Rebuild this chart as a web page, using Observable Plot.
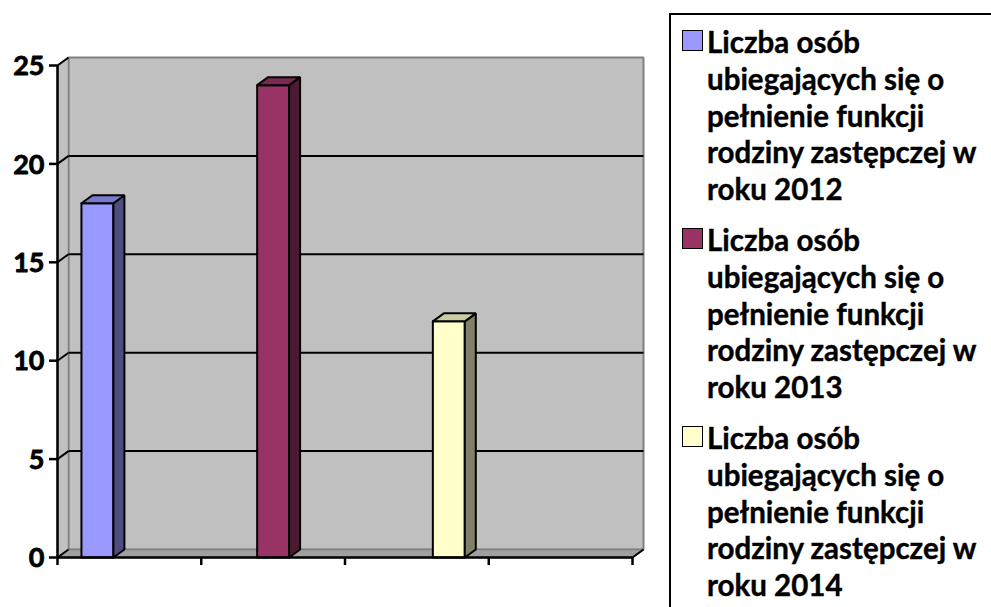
<!DOCTYPE html>
<html><head><meta charset="utf-8">
<script src="https://cdn.jsdelivr.net/npm/d3@7"></script>
<script src="https://cdn.jsdelivr.net/npm/@observablehq/plot@0.6"></script>
<style>
html,body{margin:0;padding:0;background:#fff;}
#wrap{position:relative;width:991px;height:607px;overflow:hidden;background:#fff;}
#chart{position:absolute;left:0;top:0;}
#legend{position:absolute;left:669px;top:13px;width:340px;height:640px;border:2px solid #000;box-sizing:border-box;font-family:Lato,"Open Sans",sans-serif;font-weight:700;font-size:29.5px;color:#000;-webkit-text-stroke:0.4px #000;}
.item{position:absolute;left:36px;line-height:36.75px;white-space:pre;}
.sw{position:absolute;left:-25px;top:6px;width:19px;height:19px;border:1.5px solid #000;}
</style></head>
<body><div id="wrap"><div id="chart"></div><div id="legend"></div></div>
<script>
// ---- data ----
const categories = ["1", "2", "3", "4"];
const series = [
  "Liczba osób\nubiegających się o\npełnienie funkcji\nrodziny zastępczej w\nroku 2012",
  "Liczba osób\nubiegających się o\npełnienie funkcji\nrodziny zastępczej w\nroku 2013",
  "Liczba osób\nubiegających się o\npełnienie funkcji\nrodziny zastępczej w\nroku 2014"
];
const seriesCategory = [0, 1, 2];
const values = [18, 24, 12];
const yTicks = [0, 5, 10, 15, 20, 25];
const colors = ["#9999ff", "#993366", "#ffffcc"];

// ---- layout helpers (3D depth in data units) ----
const nCat = categories.length;
const yMax = 25;
const pxX = 575 / nCat, pxY = 492 / yMax;
const dX = 11 / pxX, dY = 8 / pxY;
const bw = 1 / (series.length + 1.5);

function shade(c, k) {
  const r = d3.rgb(c);
  return d3.rgb(r.r * k, r.g * k, r.b * k).formatHex();
}
function poly(pts, fill, stroke, sw) {
  const closed = pts.concat([pts[0]]).map(([x, y]) => ({x, y}));
  return Plot.line(closed, {x: "x", y: "y", fill, stroke, strokeWidth: sw, strokeLinejoin: "miter", curve: "linear"});
}

const marks = [];
// back wall
marks.push(poly([[dX, dY], [nCat + dX, dY], [nCat + dX, yMax + dY], [dX, yMax + dY]], "#c0c0c0", "#808080", 2));
// left wall
marks.push(poly([[0, 0], [dX, dY], [dX, yMax + dY], [0, yMax]], "#c0c0c0", "#808080", 1.5));
// floor
marks.push(poly([[0, 0], [nCat, 0], [nCat + dX, dY], [dX, dY]], "#a0a0a0", "#808080", 1.5));
// gridlines on back wall
marks.push(Plot.link(yTicks.filter(t => t > 0 && t < yMax), {
  x1: dX, x2: nCat + dX, y1: t => t + dY, y2: t => t + dY, stroke: "#000", strokeWidth: 2
}));
// bars
series.forEach((s, i) => {
  const c = seriesCategory[i];
  const x1 = c + (0.75 + i) * bw, x2 = x1 + bw, v = values[i];
  const col = colors[i];
  marks.push(poly([[x1, 0], [x2, 0], [x2, v], [x1, v]], col, "#000", 2));
  marks.push(poly([[x2, 0], [x2 + dX, dY], [x2 + dX, v + dY], [x2, v]], shade(col, 0.5), "#000", 2));
  marks.push(poly([[x1, v], [x2, v], [x2 + dX, v + dY], [x1 + dX, v + dY]], shade(col, 0.8), "#000", 2));
});
// front y axis line and diagonal ticks
marks.push(Plot.ruleX([0], {y1: 0, y2: yMax, stroke: "#000", strokeWidth: 2.5}));
marks.push(Plot.link(yTicks, {x1: 0, x2: dX, y1: t => t, y2: t => t + dY, stroke: "#000", strokeWidth: 2}));
// front x axis line and right floor edge
marks.push(Plot.ruleY([0], {x1: 0, x2: nCat, stroke: "#000", strokeWidth: 2.5}));
marks.push(Plot.link([0], {x1: nCat, x2: nCat + dX, y1: 0, y2: dY, stroke: "#000", strokeWidth: 2}));
marks.push(Plot.axisY(yTicks, {anchor: "left", label: null, tickSize: 8, strokeWidth: 2.5, tickFormat: () => ""}));
marks.push(Plot.text(yTicks, {x: 0, y: d => d, text: d => String(d), textAnchor: "end", dx: -13, dy: 1,
  fontSize: 27, fontWeight: "bold", fontFamily: "Lato, 'Open Sans', sans-serif", fill: "#000",
  stroke: "#000", strokeWidth: 0.8}));
marks.push(Plot.axisX(d3.range(nCat + 1), {anchor: "bottom", label: null, tickSize: 8, strokeWidth: 2.5, tickFormat: () => ""}));

const chart = Plot.plot({
  width: 660, height: 607,
  marginLeft: 57, marginRight: 28, marginTop: 65, marginBottom: 50,
  style: {fontFamily: "Lato, 'Open Sans', sans-serif", color: "#000", background: "#fff", overflow: "visible"},
  x: {type: "linear", domain: [0, nCat], axis: null, label: null},
  y: {type: "linear", domain: [0, yMax], axis: null, label: null},
  marks
});
document.getElementById("chart").appendChild(chart);

// legend
const legend = document.getElementById("legend");
series.forEach((s, i) => {
  const it = document.createElement("div");
  it.className = "item";
  it.style.top = (9 + i * 198) + "px";
  it.textContent = s;
  const sw = document.createElement("div");
  sw.className = "sw";
  sw.style.background = colors[i];
  it.appendChild(sw);
  legend.appendChild(it);
});
</script>
</body></html>
